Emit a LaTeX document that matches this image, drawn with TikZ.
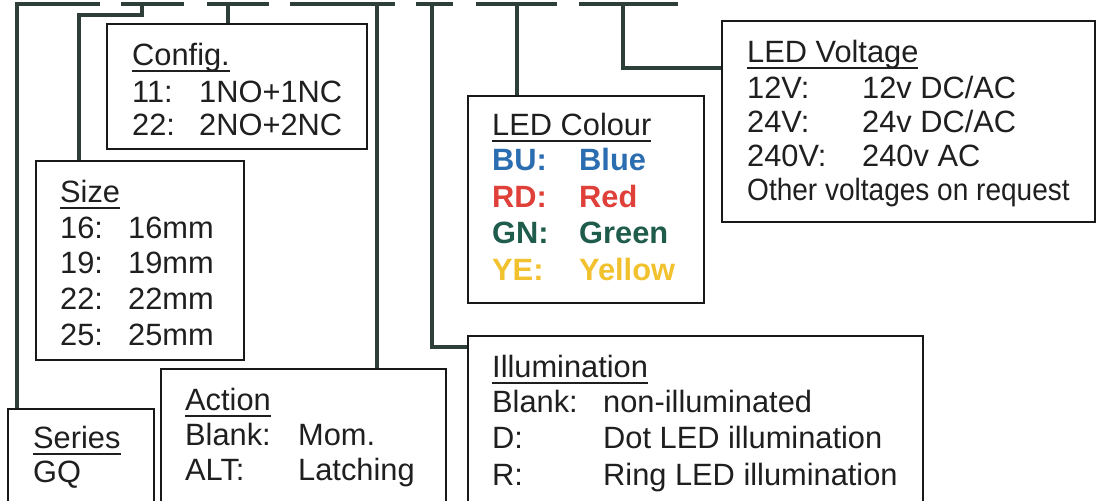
\documentclass[tikz,border=0pt]{standalone}
\usepackage{fontspec}
\setmainfont{Liberation Sans}
\definecolor{conncol}{HTML}{2E3F39}
\definecolor{ledblue}{HTML}{2A6DB0}
\definecolor{ledred}{HTML}{E0403A}
\definecolor{ledgreen}{HTML}{1F5C4C}
\definecolor{ledyellow}{HTML}{F2C12E}
\newcommand\bigfs{\fontsize{30.8pt}{36pt}\selectfont}
\newcommand\hdul[1]{\setbox0=\hbox{#1}\rlap{\rule[-7pt]{\wd0}{2.4pt}}\box0}
\begin{document}
\begin{tikzpicture}[x=1pt,y=-1pt,
  box/.style={draw=black!90, line width=2.4pt, rectangle, inner sep=0pt, anchor=north west},
  txt/.style={anchor=base west, inner sep=0pt, font=\bigfs, text=black!88},
  btxt/.style={txt, font=\bigfs\bfseries},
  conn/.style={draw=conncol, line width=4.5pt, line join=miter},
]
\clip (0,0) rectangle (1096,501);
\fill[white] (0,0) rectangle (1096,501);

% boxes
\node[box, minimum width=260pt, minimum height=125pt] (config) at (106,23) {};
\node[box, minimum width=208pt, minimum height=199pt] (size) at (35,160) {};
\node[box, minimum width=146pt, minimum height=120pt] (series) at (7,408) {};
\node[box, minimum width=285pt, minimum height=160pt] (action) at (160,368) {};
\node[box, minimum width=455pt, minimum height=200pt] (illum) at (467,335) {};
\node[box, minimum width=236pt, minimum height=207pt] (colour) at (467,95) {};
\node[box, minimum width=373pt, minimum height=201pt] (volt) at (721,20) {};

% dashes and connectors
\coordinate (d1a) at (17,4);  \coordinate (d1b) at (100,4);
\coordinate (d2a) at (121,4); \coordinate (d2b) at (184,4);
\coordinate (d3a) at (207,4); \coordinate (d3b) at (269,4);
\coordinate (d4a) at (290,4); \coordinate (d4b) at (395,4);
\coordinate (d5a) at (416,4); \coordinate (d5b) at (453,4);
\coordinate (d6a) at (476,4); \coordinate (d6b) at (557,4);
\coordinate (d7a) at (579,4); \coordinate (d7b) at (678,4);

\draw[conn] (d1b) -- (d1a) -- (d1a |- series.north);
\draw[conn] (d2a) -- (d2b);
\draw[conn] (d3a) -- (d3b);
\draw[conn] (d4a) -- (d4b);
\draw[conn] (d5a) -- (d5b);
\draw[conn] (d6a) -- (d6b);
\draw[conn] (d7a) -- (d7b);

\coordinate (s1) at (142,4); \coordinate (s2) at (79,15);
\draw[conn] (s1) |- (s2) -- (s2 |- size.north);
\coordinate (c1) at (228,4);
\draw[conn] (c1) -- (c1 |- config.north);
\coordinate (a1) at (377,4);
\draw[conn] (a1) -- (a1 |- action.north);
\coordinate (i1) at (432,4); \coordinate (i2) at (432,347);
\draw[conn] (i1) -- (i2) -- (i2 -| illum.west);
\coordinate (l1) at (517,4);
\draw[conn] (l1) -- (l1 |- colour.north);
\coordinate (v1) at (623,4); \coordinate (v2) at (623,68);
\draw[conn] (v1) -- (v2) -- (v2 -| volt.west);

% Config
\node[txt] (cfgT) at (132,65) {\hdul{Config.}};
\node[txt] (cfg1k) at (132,102) {11:};
\node[txt] (cfg1v) at (199,102) {1NO+1NC};
\node[txt] (cfg2k) at (132,135) {22:};
\node[txt] (cfg2v) at (199,135) {2NO+2NC};

% Size
\node[txt] (szT) at (60,202) {\hdul{Size}};
\node[txt] (sz1k) at (60,238) {16:};
\node[txt] (sz1v) at (128,238) {16mm};
\node[txt] (sz2k) at (60,273) {19:};
\node[txt] (sz2v) at (128,273) {19mm};
\node[txt] (sz3k) at (60,309) {22:};
\node[txt] (sz3v) at (128,309) {22mm};
\node[txt] (sz4k) at (60,345) {25:};
\node[txt] (sz4v) at (128,345) {25mm};

% Series
\node[txt] (srT) at (33,448) {\hdul{Series}};
\node[txt] (sr1) at (33,482) {GQ};

% Action
\node[txt] (acT) at (185,410) {\hdul{Action}};
\node[txt] (ac1k) at (185,445) {Blank:};
\node[txt] (ac1v) at (298,445) {Mom.};
\node[txt] (ac2k) at (185,480) {ALT:};
\node[txt] (ac2v) at (298,480) {Latching};

% Illumination
\node[txt] (ilT) at (492,377) {\hdul{Illumination}};
\node[txt] (il1k) at (492,412) {Blank:};
\node[txt] (il1v) at (603,412) {non-illuminated};
\node[txt] (il2k) at (492,448) {D:};
\node[txt] (il2v) at (603,448) {Dot LED illumination};
\node[txt] (il3k) at (492,485) {R:};
\node[txt] (il3v) at (603,485) {Ring LED illumination};

% LED Colour
\node[txt] (lcT) at (492,135) {\hdul{LED Colour}};
\node[btxt, text=ledblue] (lc1k) at (492,170) {BU:};
\node[btxt, text=ledblue] (lc1v) at (579,170) {Blue};
\node[btxt, text=ledred] (lc2k) at (492,207) {RD:};
\node[btxt, text=ledred] (lc2v) at (579,207) {Red};
\node[btxt, text=ledgreen] (lc3k) at (492,243) {GN:};
\node[btxt, text=ledgreen] (lc3v) at (579,243) {Green};
\node[btxt, text=ledyellow] (lc4k) at (492,280) {YE:};
\node[btxt, text=ledyellow] (lc4v) at (579,280) {Yellow};

% LED Voltage
\node[txt] (lvT) at (747,62) {\hdul{LED Voltage}};
\node[txt] (lv1k) at (747,98) {12V:};
\node[txt] (lv1v) at (862,98) {12v DC/AC};
\node[txt] (lv2k) at (747,132) {24V:};
\node[txt] (lv2v) at (862,132) {24v DC/AC};
\node[txt] (lv3k) at (747,166) {240V:};
\node[txt] (lv3v) at (862,166) {240v AC};
\node[txt] (lv4) at (747,200) {\scalebox{0.91}[1]{Other voltages on request}};
\end{tikzpicture}
\end{document}
